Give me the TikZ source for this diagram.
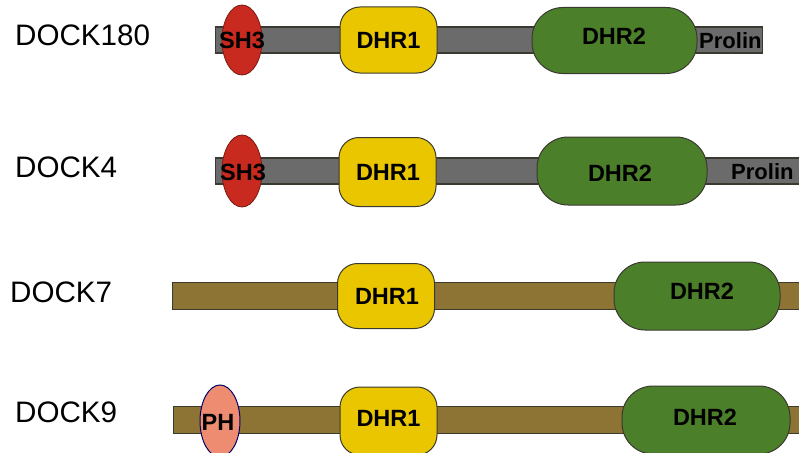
\documentclass[tikz,border=0pt]{standalone}
\usepackage{fontspec}
\setmainfont{Liberation Sans}
\usetikzlibrary{shapes.geometric}
\definecolor{bargray}{HTML}{6B6B6B}
\definecolor{barolive}{HTML}{8E7434}
\definecolor{sh3red}{HTML}{C92A1F}
\definecolor{dhryellow}{HTML}{E9C600}
\definecolor{dhrgreen}{HTML}{4C7F2A}
\definecolor{phsalmon}{HTML}{EE8C72}
\definecolor{edgedark}{HTML}{3A3A30}
\tikzset{
  lbl/.style={anchor=west, inner sep=0pt, font=\fontsize{29.6}{32}\selectfont},
  dtext/.style={inner sep=0pt, font=\bfseries\fontsize{23.5}{26}\selectfont},
  ptext/.style={inner sep=0pt, anchor=west, font=\bfseries\fontsize{22}{24}\selectfont},
  grayBar/.style={draw=edgedark, line width=1.4pt, fill=bargray, anchor=west, minimum height=26pt, inner sep=0pt},
  oliveBar/.style={draw=edgedark, line width=1.4pt, fill=barolive, anchor=west, minimum height=27pt, inner sep=0pt},
  sh3/.style={ellipse, draw=sh3red!60!black, line width=0.8pt, fill=sh3red, minimum width=40pt, minimum height=70pt, inner sep=0pt},
  ph/.style={ellipse, draw=blue!40!black, line width=1pt, fill=phsalmon, minimum width=40pt, minimum height=72pt, inner sep=0pt},
  dhra/.style={rectangle, rounded corners=20pt, draw=edgedark, line width=1pt, fill=dhryellow, minimum width=97pt, minimum height=66pt, inner sep=0pt},
  dhrb/.style={rectangle, rounded corners=31pt, draw=edgedark, line width=1pt, fill=dhrgreen, inner sep=0pt},
}
\begin{document}
\begin{tikzpicture}[x=1pt,y=-1pt]
\useasboundingbox (0,0) rectangle (799,452);
% labels
\node[lbl] (l1) at (15,35) {DOCK180};
\node[lbl] (l2) at (15,167) {DOCK4};
\node[lbl] (l3) at (10,292) {DOCK7};
\node[lbl] (l4) at (15,412) {DOCK9};
% row 1 DOCK180
\node[grayBar, minimum width=547pt] (b1) at (215,40) {};
\node[sh3] (s1) at (242,40) {};
\node[dtext] (s1t) at (242,40) {SH3};
\node[dhra] (d1a) at (388.5,40) {};
\node[dtext] (d1at) at (388.5,40) {DHR1};
\node[dhrb, minimum width=165pt, minimum height=66pt] (d1b) at (614.5,40.5) {};
\node[dtext] (d1bt) at (614,36) {DHR2};
\node[ptext] (p1) at (699,41) {Prolin};
% row 2 DOCK4
\node[grayBar, minimum width=590pt] (b2) at (215,171) {};
\node[sh3, minimum height=72pt] (s2) at (242,171) {};
\node[dtext] (s2t) at (243,172) {SH3};
\node[dhra, minimum height=69pt] (d2a) at (387.5,172) {};
\node[dtext] (d2at) at (388,172) {DHR1};
\node[dhrb, minimum width=170pt, minimum height=68pt] (d2b) at (622,171) {};
\node[dtext] (d2bt) at (620,173) {DHR2};
\node[ptext] (p2) at (731,172) {Prolin};
% row 3 DOCK7
\node[oliveBar, minimum width=628pt] (b3) at (172,296) {};
\node[dhra, minimum height=65pt] (d3a) at (386,296) {};
\node[dtext] (d3at) at (387,296) {DHR1};
\node[dhrb, minimum width=166pt, minimum height=68pt] (d3b) at (697,296) {};
\node[dtext] (d3bt) at (702,291) {DHR2};
% row 4 DOCK9
\node[oliveBar, minimum width=628pt] (b4) at (173,420) {};
\node[ph] (ph4) at (220,421) {};
\node[dtext] (ph4t) at (218,422) {PH};
\node[dhra, minimum height=68pt] (d4a) at (388.5,421) {};
\node[dtext] (d4at) at (388.5,418) {DHR1};
\node[dhrb, minimum width=168pt, minimum height=68pt] (d4b) at (706,420) {};
\node[dtext] (d4bt) at (705,417) {DHR2};
\end{tikzpicture}
\end{document}
